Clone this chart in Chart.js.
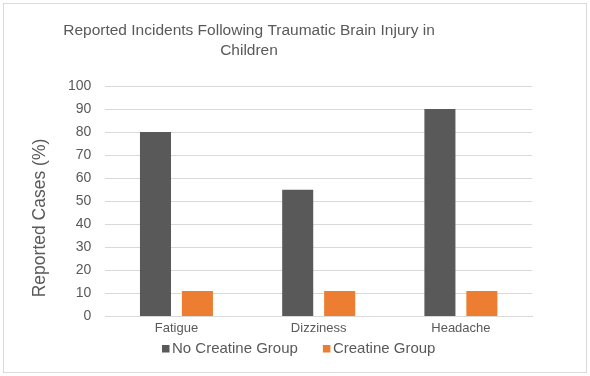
<!DOCTYPE html>
<html>
<head>
<meta charset="utf-8">
<script src="https://cdn.jsdelivr.net/npm/chart.js@4.4.1/dist/chart.umd.min.js"></script>
<style>
  html, body { margin: 0; padding: 0; background: #fff; }
  #wrap { width: 590px; height: 376px; position: relative; }
</style>
</head>
<body>
<div id="wrap"><canvas id="chart" width="590" height="376"></canvas></div>
<script>
"use strict";

const categories = ['Fatigue', 'Dizziness', 'Headache'];
const noCreatine = [80, 55, 90];
const creatine = [11, 11, 11];
const titleLines = ['Reported Incidents Following Traumatic Brain Injury in', 'Children'];
const yTitle = 'Reported Cases (%)';
const textColor = '#595959';
const fontFamily = '"Liberation Sans", Arial, sans-serif';

// Excel-style frame, off-centre title, axis title and compact legend
const framePlugin = {
    id: 'frame',
    beforeDraw: (chart) => {
        const ctx = chart.ctx;
        ctx.save();
        ctx.fillStyle = '#fff';
        ctx.fillRect(0, 0, chart.width, chart.height);
        ctx.strokeStyle = '#d9d9d9';
        ctx.lineWidth = 1;
        ctx.strokeRect(3.5, 3.5, 583, 369);
        ctx.restore();
    },
    afterDraw: (chart) => {
        const ctx = chart.ctx;
        ctx.save();
        ctx.fillStyle = textColor;
        ctx.font = '15.5px ' + fontFamily;
        ctx.textAlign = 'center';
        ctx.textBaseline = 'middle';
        titleLines.forEach((line, i) => {
            ctx.fillText(line, 249, 31 + i * 20);
        });

        // y axis title
        ctx.save();
        ctx.translate(40, 218);
        ctx.rotate(-Math.PI / 2);
        ctx.font = '17.5px ' + fontFamily;
        ctx.fillText(yTitle, 0, 0);
        ctx.restore();

        // legend
        ctx.font = '15px ' + fontFamily;
        ctx.textAlign = 'left';
        let x = 162;
        chart.data.datasets.forEach((ds) => {
            ctx.fillStyle = ds.backgroundColor;
            ctx.fillRect(x, 345, 7.5, 7.5);
            ctx.fillStyle = textColor;
            ctx.fillText(ds.label, x + 10, 349);
            x += 10 + ctx.measureText(ds.label).width + 25;
        });
        ctx.restore();
    }
};

new Chart(document.getElementById('chart'), {
    type: 'bar',
    data: {
        labels: categories,
        datasets: [{
            label: 'No Creatine Group',
            data: noCreatine,
            backgroundColor: '#595959',
            categoryPercentage: 0.59,
            barPercentage: 0.74
        }, {
            label: 'Creatine Group',
            data: creatine,
            backgroundColor: '#ed7d31',
            categoryPercentage: 0.59,
            barPercentage: 0.74
        }]
    },
    options: {
        responsive: false,
        animation: false,
        layout: {
            padding: {top: 86, left: 54, right: 58, bottom: 36}
        },
        plugins: {
            title: {display: false},
            tooltip: {enabled: false},
            legend: {display: false}
        },
        scales: {
            x: {
                grid: {display: false, drawTicks: false},
                border: {color: '#d9d9d9'},
                ticks: {
                    color: textColor,
                    padding: 4,
                    font: {family: fontFamily, size: 13}
                }
            },
            y: {
                min: 0,
                max: 100,
                ticks: {
                    stepSize: 10,
                    color: textColor,
                    padding: 14,
                    font: {family: fontFamily, size: 14}
                },
                grid: {color: '#d9d9d9', drawTicks: false},
                border: {display: false}
            }
        }
    },
    plugins: [framePlugin]
});
</script>
</body>
</html>
